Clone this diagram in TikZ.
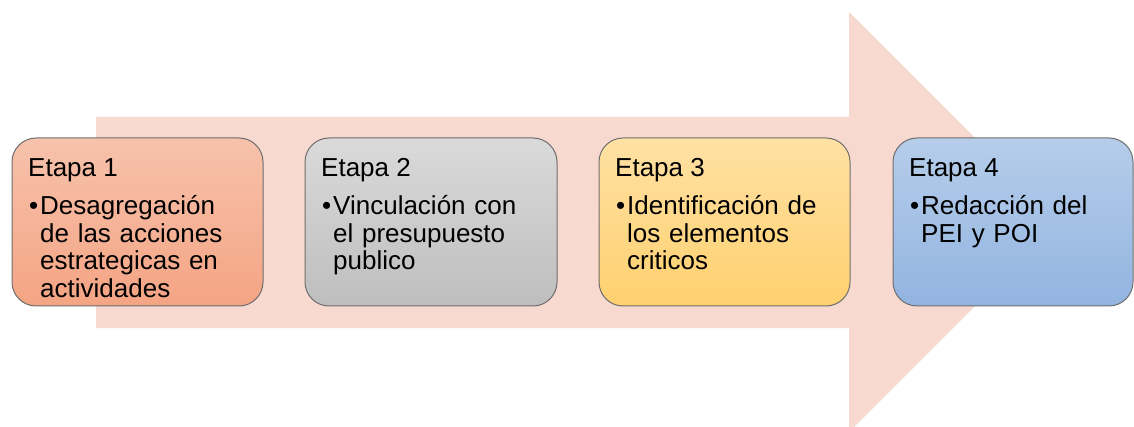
\documentclass[tikz,border=0pt]{standalone}
\usepackage{fontspec}
\setmainfont{Liberation Sans}
\definecolor{arrowc}{HTML}{F8D9CF}
\definecolor{edgec}{HTML}{6E6E6E}
\definecolor{aT}{HTML}{F7C2AC}\definecolor{aB}{HTML}{F4A483}
\definecolor{bT}{HTML}{DADADA}\definecolor{bB}{HTML}{BEBEBE}
\definecolor{cT}{HTML}{FFE1A4}\definecolor{cB}{HTML}{FFD06E}
\definecolor{dT}{HTML}{B6CDEA}\definecolor{dB}{HTML}{92B4E0}
\tikzset{
  stage/.style={draw=edgec, line width=1pt, rounded corners=24pt},
  ttl/.style={anchor=base west, inner sep=0pt, font=\fontsize{26}{27.5}\selectfont},
  body/.style={anchor=base west, inner sep=0pt, text width=215pt, align=left,
     font=\fontsize{26}{27.5}\selectfont},
}
\begin{document}
\begin{tikzpicture}[x=1pt,y=-1pt]
\useasboundingbox (0,0) rectangle (1134,427);
\clip (0,0) rectangle (1134,427);
\fill[arrowc] (96,117) -- (849,117) -- (849,12) -- (1059,222) -- (849,432) -- (849,328) -- (96,328) -- cycle;
% boxes
\path[stage, top color=aT, bottom color=aB] (12,138) rectangle (263,306);
\coordinate (b1) at (12,138);
\path[stage, top color=bT, bottom color=bB] (305,138) rectangle (557,306);
\coordinate (b2) at (305,138);
\path[stage, top color=cT, bottom color=cB] (599,138) rectangle (850,306);
\coordinate (b3) at (599,138);
\path[stage, top color=dT, bottom color=dB] (893,138) rectangle (1133,306);
\coordinate (b4) at (893,138);
% texts
\foreach \b/\n in {b1/1,b2/2,b3/3,b4/4}{
  \node[ttl] (t\n) at ([shift={(16,39)}]\b) {Etapa \n};
  \node[ttl] (u\n) at ([shift={(17,77)}]\b) {\textbullet};
}
\node[body] (x1) at ([shift={(28,77)}]b1) {Desagregación\\ de las acciones\\ estrategicas en\\ actividades};
\node[body] (x2) at ([shift={(28,77)}]b2) {Vinculación con\\ el presupuesto\\ publico};
\node[body] (x3) at ([shift={(28,77)}]b3) {Identificación de\\ los elementos\\ criticos};
\node[body] (x4) at ([shift={(28,77)}]b4) {Redacción del\\ PEI y POI};
\end{tikzpicture}
\end{document}
